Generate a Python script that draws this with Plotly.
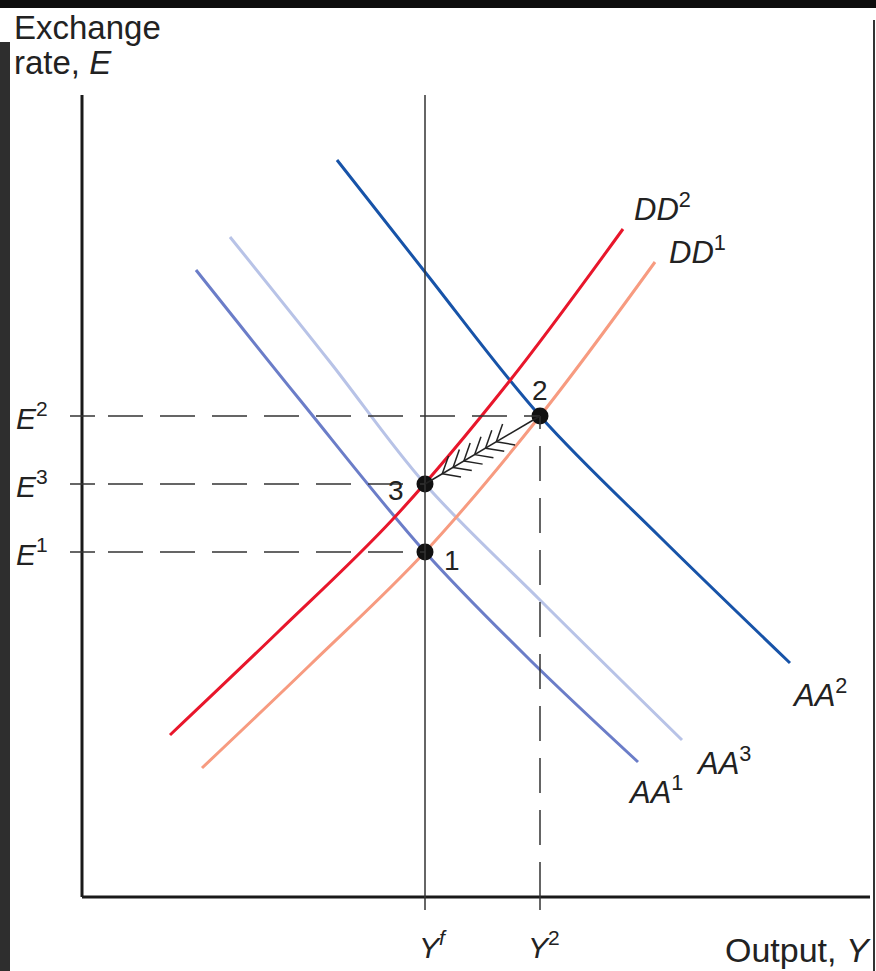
import numpy as np
import plotly.graph_objects as go

# ---- data (schematic units, origin at the axes corner) ----
dd1_x = [120, 228, 343, 458, 573]
dd1_y = [129, 232, 345, 481, 635]
dd2_x = [88, 196, 311, 426, 541]
dd2_y = [162, 265, 378, 514, 668]
aa1_x = [114, 218, 343, 448, 556]
aa1_y = [627, 497, 345, 237, 135]
aa3_x = [148, 248, 343, 458, 600]
aa3_y = [660, 535, 413, 297, 157]
aa2_x = [255, 343, 458, 578, 708]
aa2_y = [737, 625, 481, 360, 234]

# equilibrium points 1, 2, 3
pt_labels = ["1", "2", "3"]
pt_x = [343, 458, 343]
pt_y = [345, 481, 413]

# levels
E_labels = ["<sup>1</sup>", "<sup>2</sup>", "<sup>3</sup>"]
E_levels = [345, 481, 413]
Y_labels = ["<i>Y<sup>f</sup></i>", "<i>Y</i><sup>2</sup>"]
Y_levels = [343, 458]

axis_top = 802
axis_right = 788

FONT = "Liberation Sans, Arial, sans-serif"
TXT = "#222222"

fig = go.Figure()

def curve(x, y, color, w=3):
    fig.add_trace(go.Scatter(x=x, y=y, mode="lines",
                             line=dict(color=color, width=w, shape="spline", smoothing=1.0),
                             hoverinfo="skip"))

curve(aa1_x, aa1_y, "#6B7DC8")
curve(aa3_x, aa3_y, "#B8C3E7")
curve(aa2_x, aa2_y, "#1753A8")
curve(dd1_x, dd1_y, "#F79B80")
curve(dd2_x, dd2_y, "#E8162B")

shapes = []
# axes
shapes.append(dict(type="line", x0=0, x1=0, y0=0, y1=axis_top, line=dict(color="#1a1a1a", width=3)))
shapes.append(dict(type="line", x0=0, x1=axis_right, y0=0, y1=0, line=dict(color="#1a1a1a", width=3)))
# Yf vertical (solid)
shapes.append(dict(type="line", x0=Y_levels[0], x1=Y_levels[0], y0=-13, y1=axis_top,
                   line=dict(color="#333333", width=1.5)))
# Y2 tick and dashed guide
shapes.append(dict(type="line", x0=Y_levels[1], x1=Y_levels[1], y0=-13, y1=0,
                   line=dict(color="#333333", width=1.5)))
shapes.append(dict(type="line", x0=Y_levels[1], x1=Y_levels[1], y0=0, y1=pt_y[1],
                   line=dict(color="#333333", width=1.5, dash="35px,17px")))
# E ticks and dashed guides
E_ends = [pt_x[0], pt_x[1], pt_x[2]]
for lvl, xe in zip(E_levels, E_ends):
    shapes.append(dict(type="line", x0=-12, x1=13, y0=lvl, y1=lvl,
                       line=dict(color="#333333", width=1.5)))
    shapes.append(dict(type="line", x0=26, x1=xe, y0=lvl, y1=lvl,
                       line=dict(color="#333333", width=1.5, dash="35px,17px")))

# arrow 2 -> 3 with chevrons
p2 = np.array([pt_x[1], pt_y[1]], float)
p3 = np.array([pt_x[2], pt_y[2]], float)
shapes.append(dict(type="line", x0=p2[0], y0=p2[1], x1=p3[0], y1=p3[1],
                   line=dict(color="#222222", width=1.5)))
d = (p2 - p3) / np.linalg.norm(p2 - p3)
L = np.linalg.norm(p2 - p3)
arm = 19
ang = np.deg2rad(40)
def rot(v, a):
    return np.array([v[0]*np.cos(a) - v[1]*np.sin(a), v[0]*np.sin(a) + v[1]*np.cos(a)])
for t in np.linspace(0.15, 0.62, 6):
    v = p3 + d * L * t
    for a in (ang, -ang):
        e = v + rot(d, a) * arm
        shapes.append(dict(type="line", x0=v[0], y0=v[1], x1=e[0], y1=e[1],
                           line=dict(color="#222222", width=1.5)))

# scan border artefacts
shapes.append(dict(type="rect", xref="paper", yref="paper", x0=0, x1=1, y0=1 - 8/971, y1=1,
                   fillcolor="#0d0d0d", line=dict(width=0), layer="above"))
shapes.append(dict(type="rect", xref="paper", yref="paper", x0=0, x1=10/876, y0=0, y1=1 - 42/971,
                   fillcolor="#2e2e2e", line=dict(width=0), layer="above"))
shapes.append(dict(type="rect", xref="paper", yref="paper", x0=873/876, x1=875/876, y0=0, y1=1 - 20/971,
                   fillcolor="#333333", line=dict(width=0), layer="above"))

# points
fig.add_trace(go.Scatter(x=pt_x, y=pt_y, mode="markers",
                         marker=dict(color="#111111", size=17), hoverinfo="skip"))

ann = []
def text(x, y, s, size=30, xanchor="left", yanchor="middle", xref="x", yref="y", xshift=0, yshift=0):
    ann.append(dict(x=x, y=y, xref=xref, yref=yref, text=s, showarrow=False,
                    xanchor=xanchor, yanchor=yanchor, xshift=xshift, yshift=yshift,
                    font=dict(family=FONT, size=size, color=TXT)))

# axis titles
text(12/876, 1 - 27/971, "Exchange", size=33, xref="paper", yref="paper")
text(12/876, 1 - 62/971, "rate, <i>E</i>", size=33, xref="paper", yref="paper")
text(873/876, 1 - 950/971, "Output, <i>Y</i>", size=34, xref="paper", yref="paper", xanchor="right")

# E labels
for lab, lvl in zip(E_labels, E_levels):
    text(-68, lvl, "<i>E</i>" + lab, size=30)
# Y labels
Y_shift = [8, 4]
for lab, lvl, sh in zip(Y_labels, Y_levels, Y_shift):
    text(lvl, -48, lab, size=30, xanchor="center", xshift=sh)

# point labels
text(pt_x[0], pt_y[0], "1", size=28, xanchor="center", xshift=27, yshift=-8)
text(pt_x[1], pt_y[1], "2", size=28, xanchor="center", yshift=26)
text(pt_x[2], pt_y[2], "3", size=28, xanchor="center", xshift=-29, yshift=-6)

# curve labels
text(dd2_x[-1], dd2_y[-1], "<i>DD</i><sup>2</sup>", size=31, xshift=9, yshift=22)
text(dd1_x[-1], dd1_y[-1], "<i>DD</i><sup>1</sup>", size=31, xshift=12, yshift=12)
text(aa2_x[-1], aa2_y[-1], "<i>AA</i><sup>2</sup>", size=31, xshift=0, yshift=-30)
text(aa3_x[-1], aa3_y[-1], "<i>AA</i><sup>3</sup>", size=31, xshift=12, yshift=-21)
text(aa1_x[-1], aa1_y[-1], "<i>AA</i><sup>1</sup>", size=31, xshift=-12, yshift=-28)

fig.update_layout(
    width=876, height=971,
    margin=dict(l=0, r=0, t=0, b=0),
    paper_bgcolor="white", plot_bgcolor="white",
    showlegend=False,
    xaxis=dict(range=[-82, 794], visible=False, fixedrange=True),
    yaxis=dict(range=[-74, 897], visible=False, fixedrange=True),
    shapes=shapes,
    annotations=ann,
)

fig.write_html("out.html", config={"displayModeBar": False, "staticPlot": True},
               post_script="document.body.style.margin='0';document.body.style.overflow='hidden';")
